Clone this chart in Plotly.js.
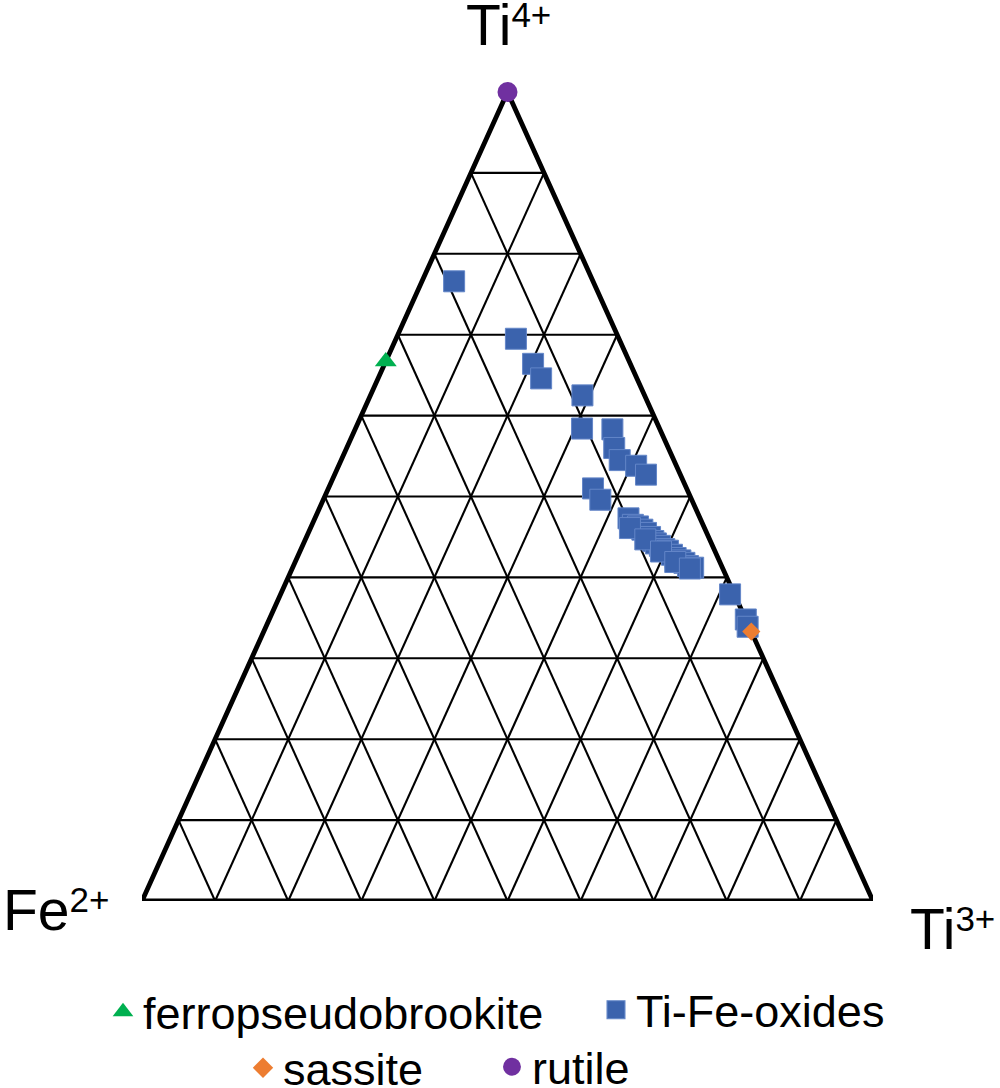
<!DOCTYPE html>
<html>
<head>
<meta charset="utf-8">
<script src="https://cdn.plot.ly/plotly-3.0.1.min.js"></script>
<style>html,body{margin:0;padding:0;background:#fff;}#chart{width:1000px;height:1088px;}</style>
</head>
<body>
<div id="chart"></div>
<script>
// Apex labels
const SUP = '<span style="font-size:35px;baseline-shift:18px">';
const apexTop = 'Ti' + SUP + '4+</span>';
const apexLeft = 'Fe' + SUP + '2+</span>';
const apexRight = 'Ti' + SUP + '3+</span>';

// Series (fractions of Ti4+, Ti3+, Fe2+)
const ferroTi4 = [0.667];
const ferroTi3 = [0.0];
const ferroFe2 = [0.333];

const oxTi4 = [0.766,0.695,0.664,0.646,0.625,0.584,0.583,0.560,0.545,0.538,0.527,0.510,0.496,
  0.473,0.465,0.463,0.459,0.455,0.450,0.445,0.442,0.439,0.435,0.433,0.428,0.424,0.421,0.418,0.414,0.412,
  0.461,0.447,0.432,0.419,0.411,0.379,0.348,0.339];
const oxTi3 = [0.044,0.164,0.203,0.223,0.290,0.310,0.352,0.366,0.381,0.407,0.426,0.362,0.379,
  0.429,0.439,0.447,0.455,0.462,0.470,0.477,0.482,0.489,0.497,0.503,0.511,0.518,0.526,0.533,0.540,0.548,
  0.437,0.465,0.494,0.520,0.544,0.615,0.652,0.659];
const oxFe2 = [0.190,0.141,0.133,0.131,0.085,0.106,0.065,0.074,0.074,0.055,0.047,0.128,0.125,
  0.098,0.096,0.090,0.086,0.083,0.080,0.078,0.076,0.072,0.068,0.064,0.061,0.058,0.053,0.049,0.046,0.040,
  0.102,0.088,0.074,0.061,0.045,0.006,0.000,0.002];

const sasTi4 = [0.333];
const sasTi3 = [0.667];
const sasFe2 = [0.0];

const rutTi4 = [1.0];
const rutTi3 = [0.0];
const rutFe2 = [0.0];

const gridDivisions = 10;

// ternary -> cartesian (x across base Fe2+ -> Ti3+, y toward Ti4+ apex)
function toXY(ti4, ti3, fe2) {
  const xs = [], ys = [];
  for (let i = 0; i < ti4.length; i++) {
    if (ti4[i] === null) { xs.push(null); ys.push(null); continue; }
    const s = ti4[i] + ti3[i] + fe2[i];
    const a = ti4[i] / s, b = ti3[i] / s;
    xs.push(b + a / 2);
    ys.push(a);
  }
  return {x: xs, y: ys};
}

// grid lines
const gT4 = [], gT3 = [], gFe = [];
for (let k = 1; k < gridDivisions; k++) {
  const f = k / gridDivisions;
  gT4.push(f, f, null); gT3.push(0, 1 - f, null); gFe.push(1 - f, 0, null);
  gT4.push(0, 1 - f, null); gT3.push(f, f, null); gFe.push(1 - f, 0, null);
  gT4.push(0, 1 - f, null); gT3.push(1 - f, 0, null); gFe.push(f, f, null);
}
const grid = toXY(gT4, gT3, gFe);
const border = toXY([0, 1, 0, 0, 1], [0, 0, 1, 0, 0], [1, 0, 0, 1, 0]);

const ferro = toXY(ferroTi4, ferroTi3, ferroFe2);
const ox = toXY(oxTi4, oxTi3, oxFe2);
const sas = toXY(sasTi4, sasTi3, sasFe2);
const rut = toXY(rutTi4, rutTi3, rutFe2);

const FONT = 'Liberation Sans, Arial, Helvetica, sans-serif';

const traces = [
  {x: grid.x, y: grid.y, mode: 'lines', line: {color: '#000', width: 2.1}, showlegend: false, hoverinfo: 'skip', cliponaxis: false},
  {x: border.x, y: border.y, mode: 'lines', line: {color: '#000', width: 4.8}, showlegend: false, hoverinfo: 'skip', cliponaxis: false},
  {x: ferro.x, y: ferro.y, mode: 'markers', name: 'ferropseudobrookite', legend: 'legend',
   marker: {symbol: 'triangle-up', size: 19, color: '#00B050'}, cliponaxis: false},
  {x: ox.x, y: ox.y, mode: 'markers', name: 'Ti-Fe-oxides', legend: 'legend2',
   marker: {symbol: 'square', size: 21, color: '#3B63AD', line: {color: '#6386C8', width: 1}}, cliponaxis: false},
  {x: sas.x, y: sas.y, mode: 'markers', name: 'sassite', legend: 'legend3',
   marker: {symbol: 'diamond', size: 14, color: '#ED7D31'}, cliponaxis: false},
  {x: rut.x, y: rut.y, mode: 'markers', name: 'rutile', legend: 'legend4',
   marker: {symbol: 'circle', size: 20, color: '#7030A0'}, cliponaxis: false}
];

function leg(cx, cy) {
  return {
    xref: 'container', yref: 'container',
    x: (cx - 20) / 1000, y: 1 - cy / 1088,
    xanchor: 'left', yanchor: 'middle',
    orientation: 'h', bgcolor: 'rgba(0,0,0,0)', borderwidth: 0,
    font: {family: FONT, size: 45, color: '#000'},
    itemclick: false, itemdoubleclick: false
  };
}

const H = 809; // plot-area height in px
function py(p) { return (901 - p) / H; }
function px(p) { return (p - 142) / 731; }

const layout = {
  width: 1000, height: 1088,
  margin: {l: 142, r: 127, t: 92, b: 187, pad: 0},
  paper_bgcolor: '#fff', plot_bgcolor: '#fff',
  xaxis: {range: [0, 1], visible: false, fixedrange: true},
  yaxis: {range: [0, 1], visible: false, fixedrange: true},
  showlegend: true,
  legend: leg(123, 1012),
  legend2: leg(616, 1010),
  legend3: leg(263, 1068),
  legend4: leg(512, 1067),
  annotations: [
    {text: apexTop, xref: 'paper', yref: 'paper', x: px(508), y: py(25), xanchor: 'center', yanchor: 'middle', showarrow: false, font: {family: FONT, size: 57, color: '#000'}},
    {text: apexLeft, xref: 'paper', yref: 'paper', x: px(56), y: py(910), xanchor: 'center', yanchor: 'middle', showarrow: false, font: {family: FONT, size: 57, color: '#000'}},
    {text: apexRight, xref: 'paper', yref: 'paper', x: px(952), y: py(929), xanchor: 'center', yanchor: 'middle', showarrow: false, font: {family: FONT, size: 57, color: '#000'}}
  ]
};

Plotly.newPlot('chart', traces, layout, {staticPlot: true, displayModeBar: false}).then(function () {
  // enlarge legend symbols slightly to match the reference's key size
  document.querySelectorAll('.legendpoints path.scatterpts').forEach(function (p) {
    const t = p.getAttribute('transform') || '';
    p.setAttribute('transform', t + ' scale(1.12)');
  });
});
</script>
</body>
</html>
